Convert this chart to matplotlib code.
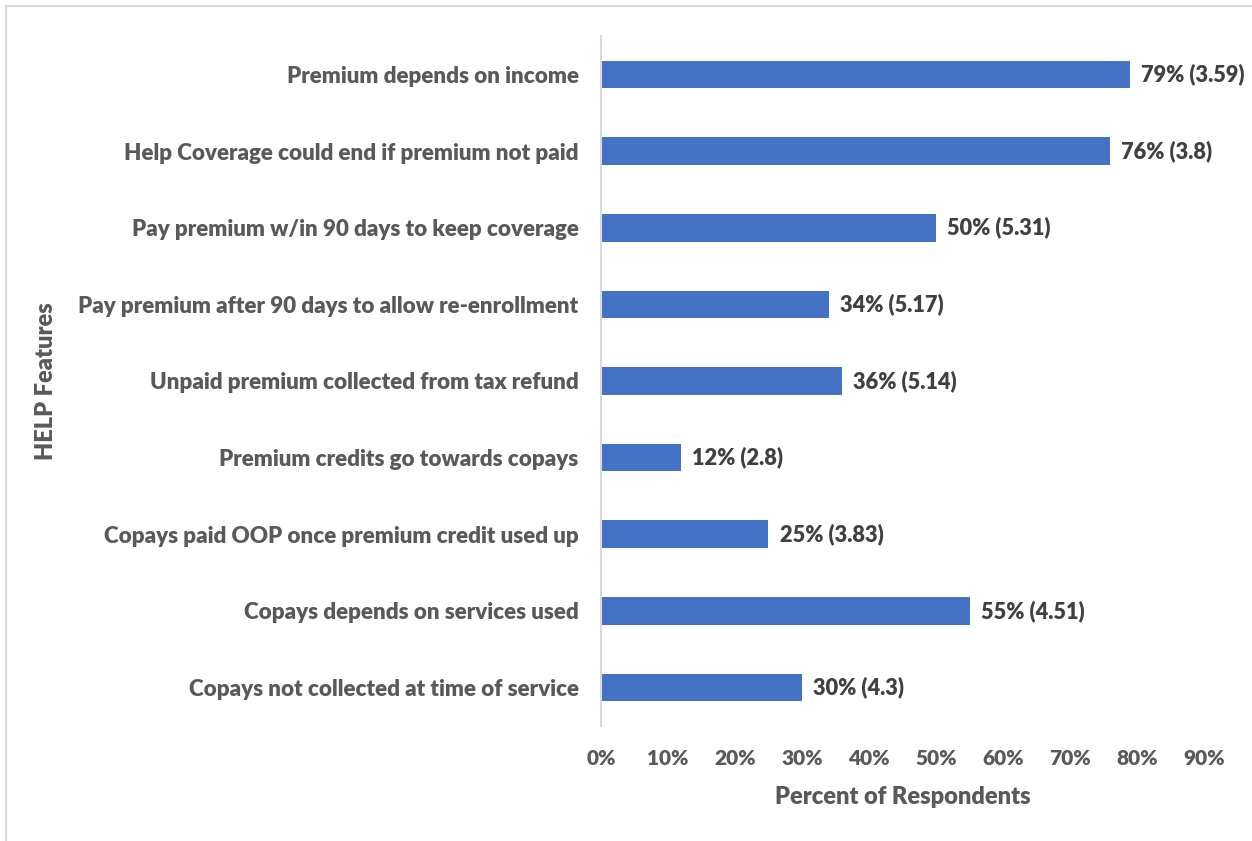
import matplotlib.pyplot as plt
from matplotlib.patches import Rectangle

features = [
    "Premium depends on income",
    "Help Coverage could end if premium not paid",
    "Pay premium w/in 90 days to keep coverage",
    "Pay premium after 90 days to allow re-enrollment",
    "Unpaid premium collected from tax refund",
    "Premium credits go towards copays",
    "Copays paid OOP once premium credit used up",
    "Copays depends on services used",
    "Copays not collected at time of service",
]
percent = [79, 76, 50, 34, 36, 12, 25, 55, 30]
scores = ["3.59", "3.8", "5.31", "5.17", "5.14", "2.8", "3.83", "4.51", "4.3"]
xticks = [0, 10, 20, 30, 40, 50, 60, 70, 80, 90]

plt.rcParams['font.family'] = ['Lato', 'DejaVu Sans']
W = 'heavy'

fig = plt.figure(figsize=(12.52, 8.41), dpi=100)
ax = fig.add_axes([0.480, 0.137, 0.4817, 0.820])

# outer chart border
fig.patches.append(Rectangle((0.005, -0.05), 1.2, 1.043, transform=fig.transFigure,
                             fill=False, edgecolor='#d9d9d9', linewidth=1.5))

ypos = list(range(len(features)))
ax.barh(ypos, percent, height=0.36, color='#4472c4')
for y, p, s in zip(ypos, percent, scores):
    ax.annotate(f"{p}% ({s})", (p, y), xytext=(8, 0), textcoords='offset points',
                va='center', ha='left', fontsize=15.7, color='#404040', fontweight=W)

ax.set_xlim(0, 90)
ax.set_ylim(8.5, -0.5)
ax.set_yticks(ypos)
ax.set_yticklabels(features, fontsize=16.1, color='#595959', fontweight=W)
ax.set_xticks(xticks)
ax.set_xticklabels([f"{t}%" for t in xticks], fontsize=15, color='#595959', fontweight=W)
ax.tick_params(axis='both', length=0)
ax.tick_params(axis='y', pad=16)
ax.tick_params(axis='x', pad=17)

for side in ['top', 'right', 'bottom']:
    ax.spines[side].set_visible(False)
ax.spines['left'].set_color('#d9d9d9')
ax.spines['left'].set_linewidth(1.5)

ax.set_xlabel("Percent of Respondents", fontsize=17, color='#595959', fontweight=W, labelpad=13)
fig.text(0.037, 0.547, "HELP Features", rotation=90, ha='center', va='center',
         fontsize=17, color='#595959', fontweight=W)

fig.savefig('out.png', dpi=100)
